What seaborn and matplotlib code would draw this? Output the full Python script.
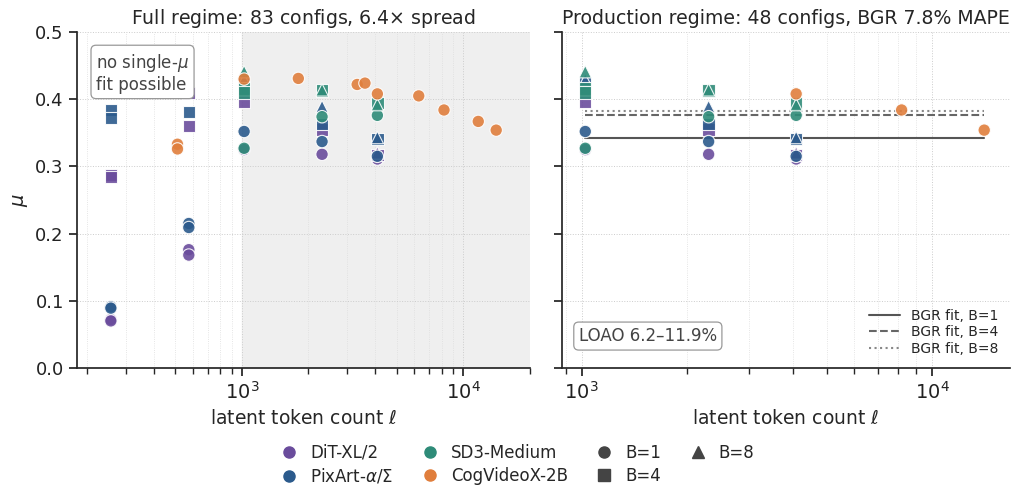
import numpy as np
import pandas as pd
import matplotlib
matplotlib.use("Agg")
import matplotlib.pyplot as plt
from matplotlib.lines import Line2D
from matplotlib.ticker import LogLocator, NullFormatter
import seaborn as sns

tokens = [256, 256, 256, 256, 576, 576, 576, 576,
          1024, 1024, 2304, 2304, 4096, 4096, 4096,
          256, 256, 256, 256, 576, 576, 576,
          1024, 1024, 1024, 2304, 2304, 2304, 4096, 4096, 4096,
          1024, 1024, 1024, 1024, 2304, 2304, 2304, 4096, 4096, 4096,
          512, 512, 1024, 1800, 3320, 3600, 4096, 6300, 8192, 11700, 14100]
mu = [0.072, 0.070, 0.287, 0.284, 0.176, 0.168, 0.409, 0.360,
      0.325, 0.396, 0.318, 0.355, 0.311, 0.317, 0.320,
      0.091, 0.089, 0.384, 0.372, 0.215, 0.209, 0.381,
      0.352, 0.424, 0.429, 0.337, 0.363, 0.389, 0.315, 0.341, 0.343,
      0.327, 0.416, 0.410, 0.441, 0.374, 0.413, 0.414, 0.376, 0.394, 0.392,
      0.333, 0.326, 0.430, 0.431, 0.422, 0.424, 0.408, 0.405, 0.384, 0.367, 0.354]
family = (["DiT-XL/2"] * 15 + ["PixArt-$\\alpha$/$\\Sigma$"] * 16
          + ["SD3-Medium"] * 10 + ["CogVideoX-2B"] * 11)
batch = [1, 1, 4, 4, 1, 1, 4, 4, 1, 4, 1, 4, 1, 4, 8,
         1, 1, 4, 4, 1, 1, 4, 1, 4, 8, 1, 4, 8, 1, 4, 8,
         1, 4, 4, 8, 1, 4, 8, 1, 4, 8,
         1, 1, 1, 1, 1, 1, 1, 1, 1, 1, 1]
in_prod = [0, 0, 0, 0, 0, 0, 0, 0, 1, 1, 1, 1, 1, 1, 1,
           0, 0, 0, 0, 0, 0, 0, 1, 1, 1, 1, 1, 1, 1, 1, 1,
           1, 1, 1, 1, 1, 1, 1, 1, 1, 1,
           0, 0, 0, 0, 0, 0, 1, 0, 1, 0, 1]

# BGR fits (production regime)
fit_batch = [1, 4, 8]
fit_mu = [0.342, 0.376, 0.383]
fit_styles = ["-", "--", ":"]
fit_colors = ["#555555", "#666666", "#888888"]
fit_lo, fit_hi = 1024, 14100

families = ["DiT-XL/2", "PixArt-$\\alpha$/$\\Sigma$", "SD3-Medium", "CogVideoX-2B"]
palette = dict(zip(families, ["#6a4c9c", "#2b5a8c", "#2e8b78", "#e07e3c"]))
markers = {1: "o", 4: "s", 8: "^"}

df = pd.DataFrame({"tokens": tokens, "mu": mu, "family": family,
                   "batch": batch, "prod": in_prod})

sns.set_theme(style="ticks")
plt.rcParams["font.family"] = ["DejaVu Sans"]
plt.rcParams["mathtext.fontset"] = "dejavusans"

fig = plt.figure(figsize=(10.13, 4.86), dpi=100)
ax1 = fig.add_axes([0.076, 0.243, 0.447, 0.691])
ax2 = fig.add_axes([0.555, 0.243, 0.442, 0.691], sharey=ax1)

def style_axis(ax, xlim):
    ax.set_xscale("log")
    ax.set_xlim(*xlim)
    ax.set_ylim(0, 0.5)
    ax.set_yticks(np.arange(0, 0.51, 0.1))
    ax.xaxis.set_minor_locator(LogLocator(base=10, subs=np.arange(2, 10)))
    ax.xaxis.set_minor_formatter(NullFormatter())
    ax.grid(True, which="major", ls=":", lw=0.7, color="#cccccc")
    ax.grid(True, which="minor", axis="x", ls=":", lw=0.6, color="#dddddd")
    ax.set_axisbelow(True)
    ax.tick_params(axis="y", labelsize=13, colors="#222222")
    ax.tick_params(axis="x", labelsize=14, colors="#222222")
    ax.set_xlabel("latent token count $\\ell$", fontsize=13.5)
    sns.despine(ax=ax)

# left: full regime
style_axis(ax1, (180, 20000))
ax1.axvspan(1000, 20000, color="#efefef", zorder=0)
sns.scatterplot(data=df, x="tokens", y="mu", hue="family", style="batch",
                palette=palette, markers=markers, hue_order=families,
                s=80, alpha=0.9, edgecolor="white", linewidth=0.8,
                legend=False, ax=ax1, zorder=3)
ax1.set_ylabel("$\\mu$", fontsize=14)
ax1.set_title("Full regime: 83 configs, 6.4$\\times$ spread", fontsize=13.6)
ax1.text(0.042, 0.94, "no single-$\\mu$\nfit possible", transform=ax1.transAxes,
         fontsize=12, color="#444444", va="top", ha="left", zorder=5,
         linespacing=1.1,
         bbox=dict(boxstyle="round,pad=0.3", fc="white", ec="#999999", lw=0.9))

# right: production regime
style_axis(ax2, (880, 16700))
prod = df[df["prod"] == 1]
sns.scatterplot(data=prod, x="tokens", y="mu", hue="family", style="batch",
                palette=palette, markers=markers, hue_order=families,
                s=80, alpha=0.9, edgecolor="white", linewidth=0.8,
                legend=False, ax=ax2, zorder=3)
for b, m, ls, c in zip(fit_batch, fit_mu, fit_styles, fit_colors):
    ax2.plot([fit_lo, fit_hi], [m, m], ls=ls, color=c, lw=1.5,
             label=f"BGR fit, B={b}", zorder=2)
ax2.set_ylabel("")
ax2.tick_params(labelleft=False)
ax2.set_title("Production regime: 48 configs, BGR 7.8% MAPE", fontsize=13.6)
ax2.legend(loc="lower right", frameon=False, fontsize=10, handlelength=2.2,
           borderaxespad=0.45, labelspacing=0.2)
ax2.text(0.037, 0.068, "LOAO 6.2\u201311.9%", transform=ax2.transAxes,
         fontsize=12, color="#444444", va="bottom", ha="left",
         bbox=dict(boxstyle="round,pad=0.3", fc="white", ec="#999999", lw=0.9))

# shared legend
handles = [Line2D([], [], marker="o", ls="", color=palette[f], markersize=8,
                  label=f) for f in families]
for b in fit_batch:
    handles.append(Line2D([], [], marker=markers[b], ls="", color="#444444",
                          markersize=8, label=f"B={b}"))
fig.legend(handles=handles, loc="lower center", bbox_to_anchor=(0.511, -0.03),
           ncol=4, frameon=False, fontsize=12, handlelength=1.0,
           handletextpad=0.75, columnspacing=1.7, labelspacing=0.3)

fig.savefig("out.png", dpi=100)
